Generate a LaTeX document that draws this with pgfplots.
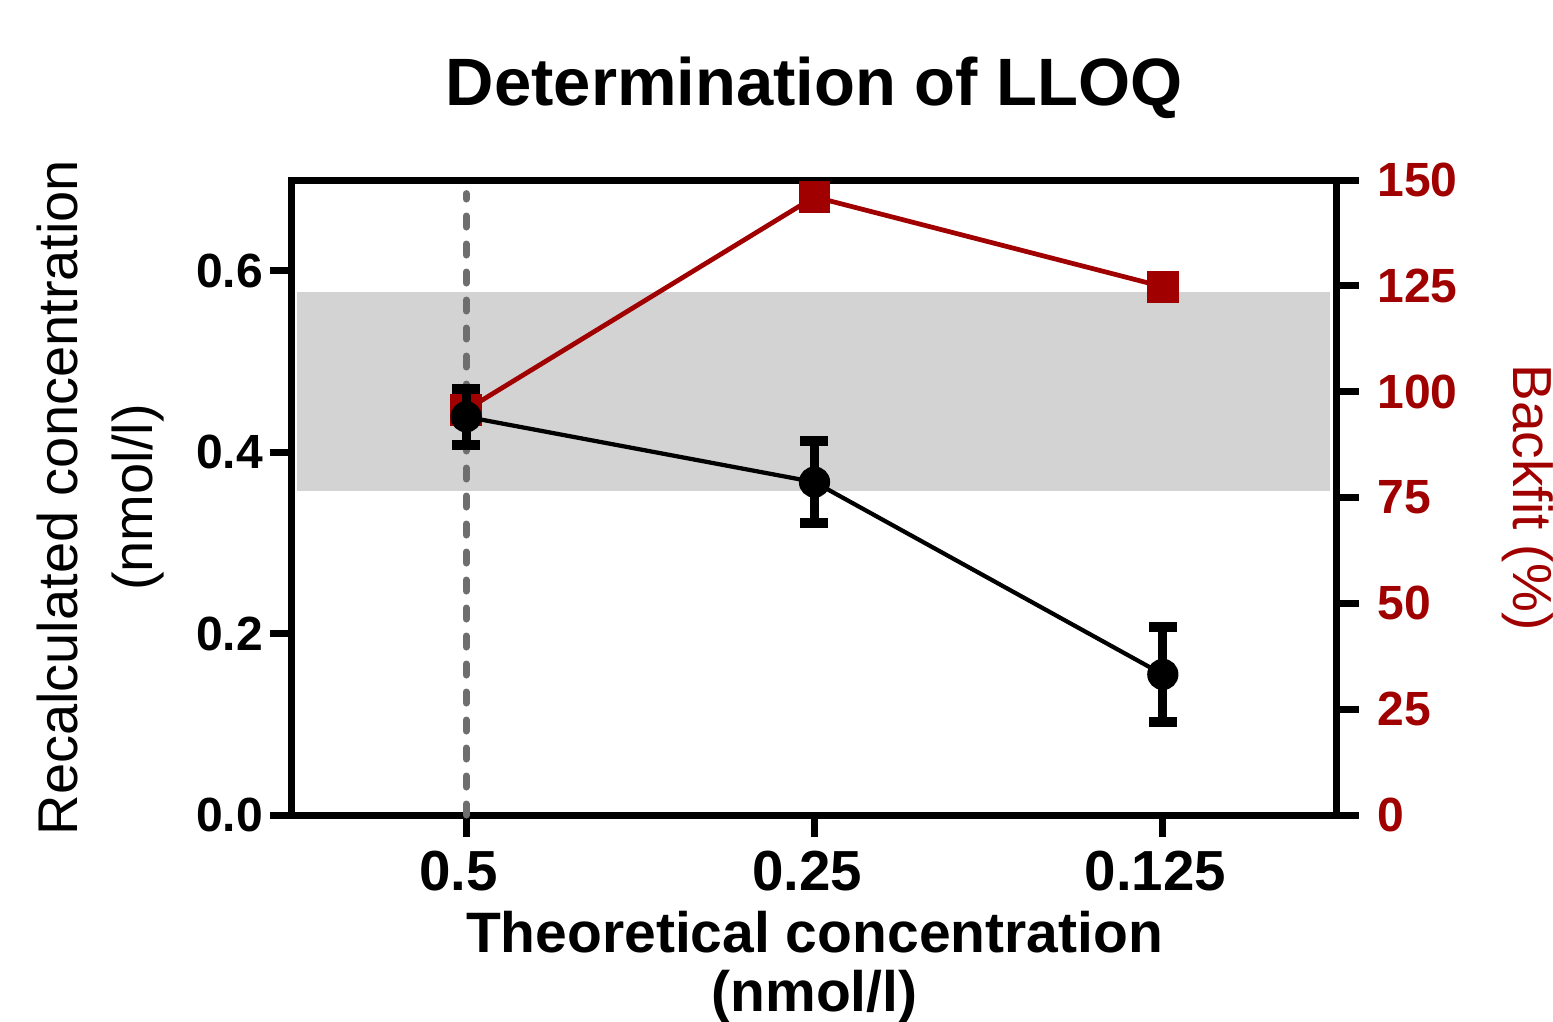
\documentclass[border=0pt]{standalone}
\usepackage{fontspec}
\setmainfont{Liberation Sans}
\usepackage{pgfplots}
\pgfplotsset{compat=1.18}
\usetikzlibrary{calc}
\definecolor{bfred}{HTML}{A00000}
\definecolor{band}{HTML}{D3D3D3}
\definecolor{dashgrey}{HTML}{6E6E6E}

\pgfplotsset{base/.style={scale only axis, width=209pt, height=127pt,
    xmin=-0.5, xmax=2.5, clip=false,
    axis line style={line width=1.4pt},
    major tick style={line width=1.4pt, black},
    major tick length=4.4pt, tick align=outside}}

\begin{document}
\begin{tikzpicture}
% left scale: band, reference line, box
\begin{axis}[base, name=main, ymin=0, ymax=0.7,
    xtick={0,1,2}, xticklabels={0.5,0.25,0.125},
    ytick={0,0.2,0.4,0.6}, yticklabels={0.0,0.2,0.4,0.6},
    xtick pos=bottom, ytick pos=left,
    xticklabel style={font=\fontsize{11.3}{12}\selectfont\bfseries, inner sep=2.6pt, xshift=-1.5pt},
    yticklabel style={font=\fontsize{9.6}{10}\selectfont\bfseries, inner sep=1.2pt},
    title={Determination of LLOQ},
    every axis title shift=0pt,
    title style={at={(axis description cs:0.5,1.118)}, anchor=base,
      font=\fontsize{13.4}{14}\selectfont\bfseries},
    xlabel={Theoretical concentration\\(nmol/l)},
    xlabel style={at={(axis description cs:0.5,-0.310)}, anchor=base, align=center,
      font=\fontsize{11.4}{11.8}\selectfont\bfseries},
    ylabel={Recalculated concentration\\(nmol/l)},
    ylabel style={at={(axis description cs:-0.1837,0.5)}, anchor=center, align=center,
      font=\fontsize{11.2}{15}\selectfont}]
  \addplot[fill=band, draw=none] coordinates {(-0.485,0.357) (2.48,0.357) (2.48,0.576) (-0.485,0.576)};
  \addplot[dashgrey, line width=1.4pt, dash pattern=on 2.2pt off 3.4pt, line cap=round]
    coordinates {(0,0) (0,0.685)};
\end{axis}
% right scale: backfit
\begin{axis}[base, ymin=0, ymax=150, hide x axis, axis y line*=right,
    ytick={0,25,50,75,100,125,150}, yticklabels={0,25,50,75,100,125,150},
    yticklabel style={font=\fontsize{9.6}{10}\selectfont\bfseries, bfred, inner sep=3.5pt},
    ylabel={Backfit (\%)},
    ylabel style={at={(axis description cs:1.1828,0.5)}, anchor=center, rotate=180,
      bfred, font=\fontsize{11}{12}\selectfont}]
  \addplot[bfred, line width=0.95pt, mark=square*, mark size=2.7pt]
    coordinates {(0,95.7) (1,146) (2,124.8)};
\end{axis}
% left scale: recalculated concentration, on top
\begin{axis}[base, ymin=0, ymax=0.7, hide axis]
  \addplot[black, line width=0.85pt, mark=*, mark size=2.7pt,
    error bars/.cd, y dir=both, y explicit,
    error bar style={line width=1.8pt},
    error mark options={rotate=90, line width=2pt, mark size=2.8pt}]
    coordinates {(0,0.439) +- (0,0.031) (1,0.367) +- (0,0.045) (2,0.155) +- (0,0.052)};
\end{axis}
\pgfresetboundingbox
\path ($(main.south west)+(-58.4pt,-41.2pt)$) rectangle ($(main.north east)+(43.2pt,36pt)$);
\end{tikzpicture}
\end{document}
